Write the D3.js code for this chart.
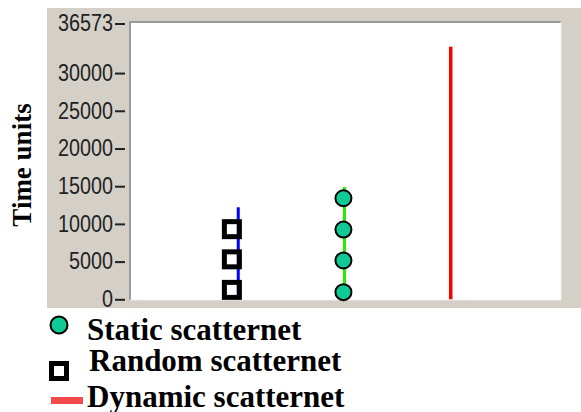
<!DOCTYPE html>
<html>
<meta charset="utf-8">
<style>
  body { margin: 0; background: #fff; }
  svg { display: block; }
</style>

<body>
  <svg></svg>
</body>

<script src="https://d3js.org/d3.v7.min.js"></script>

<script>

  var W = 581, H = 412;

  // data
  var seriesNames = ["Static scatternet", "Random scatternet", "Dynamic scatternet"];
  var xPos = [2, 1, 3];                      // column of each series
  var staticTimes = [950, 5150, 9250, 13400];
  var randomTimes = [1250, 5300, 9300];
  var lineTops = [14900, 12200, 33500];      // vertical line height per series
  var yTicks = [0, 5000, 10000, 15000, 20000, 25000, 30000, 36573];
  var yMax = 36573;

  var svg = d3.select("svg")
    .attr("width", W)
    .attr("height", H);

  // grey panel and white plot area
  svg.append("rect")
    .attr("x", 47).attr("y", 8).attr("width", 534).attr("height", 300)
    .attr("fill", "#d4d0c8");

  var plot = { left: 130, top: 22, right: 561, bottom: 300 };

  svg.append("rect")
    .attr("x", plot.left).attr("y", plot.top)
    .attr("width", plot.right - plot.left).attr("height", plot.bottom - plot.top)
    .attr("fill", "#fff");

  // inset border: dark top/left, light bottom/right
  svg.append("path")
    .attr("d", "M" + plot.left + "," + plot.bottom + "V" + plot.top + "H" + plot.right)
    .attr("fill", "none").attr("stroke", "#9a9a9a").attr("stroke-width", 2);
  svg.append("path")
    .attr("d", "M" + plot.left + "," + plot.bottom + "H" + plot.right + "V" + plot.top)
    .attr("fill", "none").attr("stroke", "#eeeeea").attr("stroke-width", 1);

  var xScale = d3.scaleLinear()
    .domain([0, 4])
    .range([132, 557]);

  var yScale = d3.scaleLinear()
    .domain([0, yMax])
    .range([299.3, 23.5]);

  // y axis
  var yAxis = d3.axisLeft(yScale)
    .tickValues(yTicks)
    .tickFormat(d3.format("d"))
    .tickSize(10)
    .tickPadding(2);

  var ax = svg.append("g")
    .attr("transform", "translate(125,0)")
    .call(yAxis);
  ax.select(".domain").remove();
  ax.selectAll(".tick line").attr("stroke", "#222").attr("stroke-width", 2);
  // tall, narrow digits like the old bitmap font
  ax.selectAll(".tick text")
    .attr("fill", "#222")
    .attr("textLength", d => String(d).length * 11)
    .attr("lengthAdjust", "spacingAndGlyphs")
    .style("font-family", "Liberation Sans, Arial, sans-serif")
    .style("font-size", "23px");

  // y axis title
  svg.append("text")
    .attr("transform", "translate(31,165) rotate(-90)")
    .attr("text-anchor", "middle")
    .style("font-family", "Liberation Serif, Times New Roman, serif")
    .style("font-weight", "bold")
    .style("font-size", "27px")
    .text("Time units");

  // vertical lines
  var lineColors = ["#22ee00", "#0000ff", "#ff0000"];
  var lineWidths = [3, 3, 3.5];

  svg.selectAll(".vline")
    .data(lineTops)
    .enter().append("line")
    .attr("class", "vline")
    .attr("x1", (d, i) => xScale(xPos[i]))
    .attr("x2", (d, i) => xScale(xPos[i]))
    .attr("y1", yScale(0))
    .attr("y2", d => yScale(d))
    .attr("stroke", (d, i) => lineColors[i])
    .attr("stroke-width", (d, i) => lineWidths[i]);

  // random scatternet squares, slightly left of their line
  var sq = 15;
  svg.selectAll(".sq")
    .data(randomTimes)
    .enter().append("rect")
    .attr("class", "sq")
    .attr("x", xScale(xPos[1] - 0.06) - sq / 2)
    .attr("y", d => yScale(d) - sq / 2)
    .attr("width", sq).attr("height", sq)
    .attr("fill", "none")
    .attr("stroke", "#000")
    .attr("stroke-width", 5);

  // static scatternet circles
  svg.selectAll(".dot")
    .data(staticTimes)
    .enter().append("circle")
    .attr("class", "dot")
    .attr("cx", xScale(xPos[0] - 0.01))
    .attr("cy", d => yScale(d))
    .attr("r", 8)
    .attr("fill", "#0fc996")
    .attr("stroke", "#000")
    .attr("stroke-width", 2);

  // legend
  var legendFont = function (sel) {
    sel.style("font-family", "Liberation Serif, Times New Roman, serif")
      .style("font-weight", "bold")
      .style("font-size", "31px")
      .attr("fill", "#000");
  };

  svg.append("circle")
    .attr("cx", 59).attr("cy", 325).attr("r", 8.5)
    .attr("fill", "#0fc996").attr("stroke", "#000").attr("stroke-width", 2);
  svg.append("rect")
    .attr("x", 51.5).attr("y", 363.5).attr("width", 15).attr("height", 15)
    .attr("fill", "none").attr("stroke", "#000").attr("stroke-width", 5);
  svg.append("line")
    .attr("x1", 51).attr("x2", 83).attr("y1", 400.5).attr("y2", 400.5)
    .attr("stroke", "#f24a4a").attr("stroke-width", 7);

  var legendPos = [[87, 340], [89, 371], [87, 407]];
  svg.selectAll(".leg")
    .data(seriesNames)
    .enter().append("text")
    .attr("class", "leg")
    .attr("x", (d, i) => legendPos[i][0])
    .attr("y", (d, i) => legendPos[i][1])
    .call(legendFont)
    .text(d => d);

</script>

</html>
